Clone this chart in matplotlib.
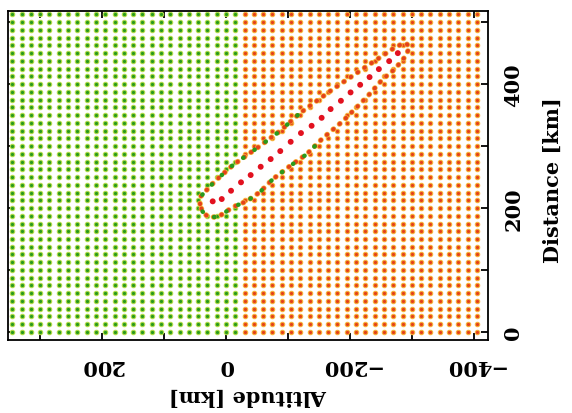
"""Grid classification scan: altitude vs distance with a rupture band (scanned, rotated figure)."""

import matplotlib

matplotlib.use("Agg")
import matplotlib.pyplot as plt
import numpy as np
from matplotlib.path import Path
from matplotlib.ticker import FuncFormatter, MultipleLocator

# Regular sampling grid (km)
ALT_START, ALT_STOP, ALT_STEP = -405.0, 350.0, 15.0
DIST_START, DIST_STOP, DIST_STEP = 0.0, 515.0, 12.5
ALT_SPLIT = -30.0  # green to the high-altitude side, orange beyond

# Red trace points along the band (altitude km, distance km)
TRACE_ALT = [21.5, 6.9, -8.1, -24.2, -39.8, -56.0, -72.1, -87.6, -104.4, -121.0,
             -138.2, -154.4, -168.9, -185.5, -201.1, -216.6, -231.8, -246.8, -263.4, -277.4]
TRACE_DIST = [210.8, 214.5, 227.9, 241.5, 253.2, 266.6, 279.0, 291.9, 306.9, 321.0,
              332.7, 345.6, 359.7, 373.1, 386.6, 398.9, 411.3, 424.2, 437.1, 450.0]

# Band outline (altitude km, distance km), up the upper edge and back down the lower one
BAND_ALT = [41.9, 41.9, 17.7, -11.3, -50.0, -87.1, -119.4, -172.6, -227.4, -275.8, -290.3,
            -296.8, -288.7, -272.6, -253.2, -227.4, -188.7, -154.8, -130.6, -103.2, -75.8,
            -54.8, -33.9, -11.3, 12.9, 29.0, 38.7, 41.9]
BAND_DIST = [206.5, 217.7, 243.5, 269.4, 296.8, 324.2, 353.2, 391.9, 429.0, 461.3, 466.1,
             459.7, 443.5, 424.2, 408.1, 379.0, 340.3, 311.3, 287.1, 267.7, 246.8,
             225.8, 211.3, 201.6, 185.5, 185.5, 195.2, 206.5]

GREEN, GREEN_EDGE = "#2a9a1c", "#b2dc4a"
ORANGE, ORANGE_EDGE = "#e4421a", "#f7b23a"
RED = "#e2111f"

alt_grid = np.arange(ALT_START, ALT_STOP, ALT_STEP)
dist_grid = np.arange(DIST_START, DIST_STOP, DIST_STEP)
aa, dd = np.meshgrid(alt_grid, dist_grid)
aa, dd = aa.ravel(), dd.ravel()

band = Path(np.column_stack([BAND_ALT, BAND_DIST]))
outside = ~band.contains_points(np.column_stack([aa, dd]), radius=-6)
green = outside & (aa > ALT_SPLIT)
orange = outside & (aa <= ALT_SPLIT)

fig = plt.figure(figsize=(5.72, 4.14), dpi=100)
ax = fig.add_axes([8 / 572, 1 - 341 / 414, 480 / 572, 329 / 414])

ax.scatter(aa[green], dd[green], s=10, c=GREEN, edgecolors=GREEN_EDGE, linewidths=0.8, zorder=2)
ax.scatter(aa[orange], dd[orange], s=10, c=ORANGE, edgecolors=ORANGE_EDGE, linewidths=0.8, zorder=2)

# dense points along the band outline, mixed colours on the lower-left part
band_alt = np.array(BAND_ALT)
band_dist = np.array(BAND_DIST)
ax.plot(band_alt, band_dist, color=ORANGE_EDGE, lw=4.0, ls=(0, (0.1, 1.4)),
        dash_capstyle="round", zorder=3)
ax.plot(band_alt, band_dist, color=ORANGE, lw=3.0, ls=(0, (0.1, 1.9)),
        dash_capstyle="round", zorder=3)
for sl in (slice(0, 7), slice(17, None)):
    ax.plot(band_alt[sl], band_dist[sl], color=GREEN, lw=3.2, ls=(0.8, (0.1, 3.0)),
            dash_capstyle="round", zorder=3)

ax.scatter(TRACE_ALT, TRACE_DIST, s=18, c=RED, edgecolors="none", zorder=4)

ax.set_xlim(352, -423)
ax.set_ylim(-13, 518)

font = dict(family="DejaVu Serif", weight="bold", size=15)
only_200 = FuncFormatter(lambda v, _: f"{v:.0f}".replace("-", "\u2212") if round(v) % 200 == 0 else "")
for axis in (ax.xaxis, ax.yaxis):
    axis.set_major_locator(MultipleLocator(100))
    axis.set_major_formatter(only_200)

ax.tick_params(axis="both", which="both", direction="in", length=5, width=1.3,
               top=True, bottom=True, left=True, right=True,
               labelleft=False, labelright=True, labelbottom=True)
ax.tick_params(axis="x", pad=11)
ax.tick_params(axis="y", pad=11)
for lbl in ax.get_xticklabels():
    lbl.set(rotation=180, **font)
for lbl in ax.get_yticklabels():
    lbl.set(rotation=90, va="center", **font)

ax.set_xlabel("Altitude [km]", rotation=180, va="center", ha="center", **font)
ax.xaxis.set_label_coords(0.5, -0.168)
ax.yaxis.set_label_position("right")
ax.set_ylabel("Distance [km]", rotation=90, va="center", ha="center", **font)
ax.yaxis.set_label_coords(1.135, 0.489)

for sp in ax.spines.values():
    sp.set_linewidth(1.3)

fig.savefig("out.png", dpi=100)
